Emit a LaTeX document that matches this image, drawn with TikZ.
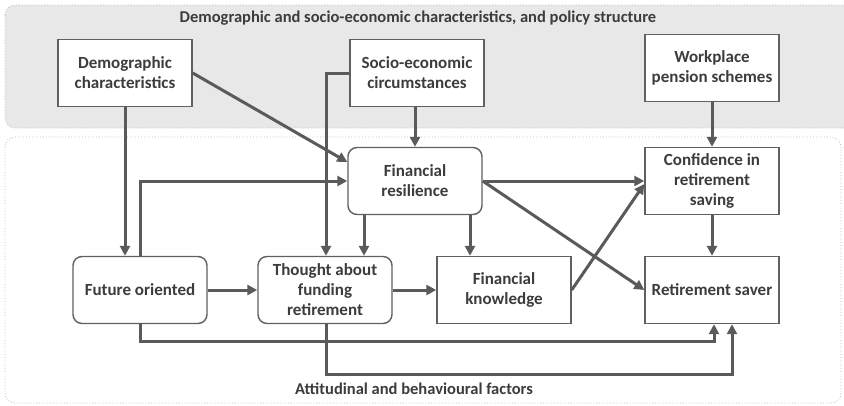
\documentclass[tikz,border=0pt]{standalone}
\usepackage{fontspec}
\setmainfont{Carlito}
\usetikzlibrary{arrows.meta,calc}
\definecolor{linec}{HTML}{5A5A5A}
\definecolor{boxc}{HTML}{606060}
\definecolor{txtc}{HTML}{3C3C3C}
\definecolor{regfill}{HTML}{E8E8E8}
\definecolor{regline}{HTML}{B8B8B8}
\tikzset{
  basebox/.style={draw=boxc, line width=1.4pt, fill=white, minimum width=134pt, minimum height=67pt,
    inner sep=2pt, align=center, text=txtc, font=\fontsize{17}{20}\selectfont\bfseries},
  sqbox/.style={basebox},
  rdbox/.style={basebox, rounded corners=9pt},
  conn/.style={draw=linec, line width=3pt, -{Triangle[length=10pt,width=10pt]}},
  region/.style={draw=regline, dotted, line width=0.8pt, rounded corners=10pt},
  regtitle/.style={text=txtc, font=\fontsize{16.5}{20}\selectfont\bfseries}
}
\begin{document}
\begin{tikzpicture}[x=1pt,y=-1pt]
\useasboundingbox (0,0) rectangle (844,405);
% regions
\path[region, fill=regfill] (5,5) rectangle (860,128);
\path[region, fill=white] (5,137) rectangle (841,403);
\node[regtitle] (toptitle) at (418,18) {Demographic and socio-economic characteristics, and policy structure};
\node[regtitle] (bottitle) at (414,389) {Attitudinal and behavioural factors};
% nodes
\node[sqbox] (dem) at (125,73) {Demographic\\characteristics};
\node[sqbox] (soc) at (417,73) {Socio-economic\\circumstances};
\node[sqbox] (wps) at (712,68) {Workplace\\pension schemes};
\node[rdbox] (fr) at (415,181) {Financial\\resilience};
\node[sqbox] (conf) at (712,181) {Confidence in\\retirement\\saving};
\node[rdbox] (fut) at (140,290) {Future oriented};
\node[rdbox] (tfr) at (325,290) {Thought about\\funding\\retirement};
\node[sqbox] (fk) at (504,290) {Financial\\knowledge};
\node[sqbox] (rs) at (712,290) {Retirement saver};
% helper coordinates
\coordinate (frL) at ([xshift=-51pt]fr.south);
\coordinate (frR) at ([xshift=55pt]fr.south);
\coordinate (rsA) at ([xshift=2pt]rs.south);
\coordinate (rsB) at ([xshift=20pt]rs.south);
% connectors
\draw[conn] (dem.south) -- (dem.south |- fut.north);
\draw[conn] (dem.east) -- ([yshift=19pt]fr.west);
\draw[conn] (fut.north) |- (fr.west);
\draw[conn] (soc.west) -| ([xshift=1pt]tfr.north);
\draw[conn] (fr.north |- soc.south) -- (fr.north);
\draw[conn] (frL) -- (frL |- tfr.north);
\draw[conn] (frR) -- (frR |- fk.north);
\draw[conn] (fr.east) -- (conf.west);
\draw[conn] (fr.east) -- (rs.west);
\draw[conn] (fk.east) -- ([yshift=-3pt]conf.west);
\draw[conn] (wps.south) -- (conf.north);
\draw[conn] (conf.south) -- (rs.north);
\draw[conn] (fut.east) -- (tfr.west);
\draw[conn] (tfr.east) -- (fk.west);
\draw[conn] (fut.south) |- ($(rsA)+(0,17)$) -- (rsA);
\draw[conn] ([xshift=1pt]tfr.south) |- ($(rsB)+(0,50)$) -- (rsB);
\end{tikzpicture}
\end{document}
